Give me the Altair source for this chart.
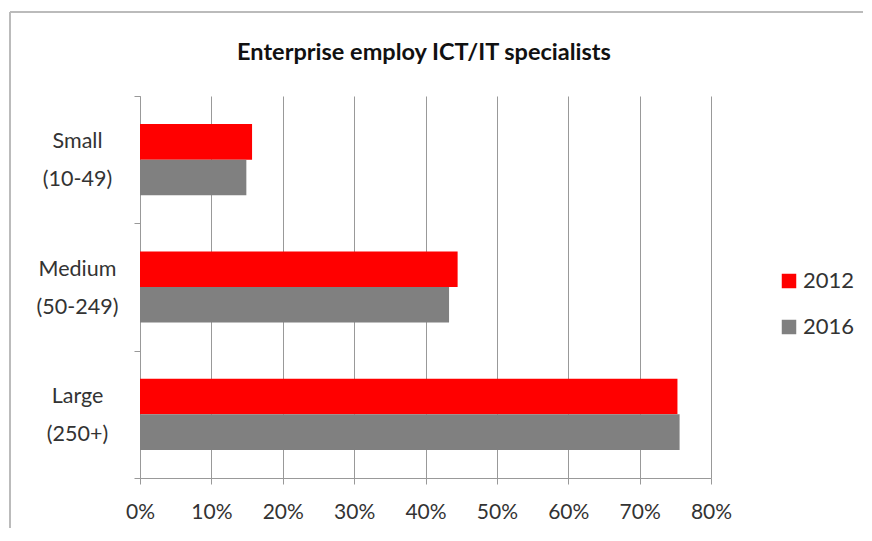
import altair as alt
import pandas as pd

categories = ["Small (10-49)", "Medium (50-249)", "Large (250+)"]
years = ["2012", "2016"]
values_2012 = [0.157, 0.445, 0.753]
values_2016 = [0.149, 0.433, 0.756]
x_ticks = [0, 0.1, 0.2, 0.3, 0.4, 0.5, 0.6, 0.7, 0.8]
chart_title = "Enterprise employ ICT/IT specialists"

rows = []
for c, a, b in zip(categories, values_2012, values_2016):
    rows.append({"cat": c, "year": "2012", "value": a})
    rows.append({"cat": c, "year": "2016", "value": b})
df = pd.DataFrame(rows)

FONT = "Lato"

bars = alt.Chart(df).mark_bar().encode(
    y=alt.Y("cat:N", sort=categories,
            scale=alt.Scale(paddingInner=0, paddingOuter=0),
            axis=alt.Axis(title=None, labelExpr="split(datum.label, ' ')",
                          labelAlign="center", labelPadding=57, labelFontSize=21.5,
                          labelColor="#333", labelFont=FONT, labelLineHeight=38,
                          labelOffset=-18,
                          tickBand="extent", tickSize=6, tickColor="#999",
                          domainColor="#999", grid=False, labelBaseline="middle")),
    yOffset=alt.YOffset("year:N", sort=years,
                        scale=alt.Scale(paddingInner=0, paddingOuter=0.79)),
    x=alt.X("value:Q", scale=alt.Scale(domain=[0, 0.8], nice=False),
            axis=alt.Axis(title=None, format=".0%", values=x_ticks, labelFontSize=21,
                          labelColor="#333", labelFont=FONT, labelPadding=17,
                          labelFlush=False,
                          tickSize=6, tickColor="#999", domainColor="#999",
                          gridColor="#999", gridWidth=1)),
    color=alt.Color("year:N", sort=years,
                    scale=alt.Scale(domain=years, range=["#FF0000", "#808080"]),
                    legend=alt.Legend(title=None, orient="none", legendX=638, legendY=174,
                                      symbolType="square", symbolSize=210,
                                      symbolStrokeWidth=0, labelFontSize=22,
                                      labelFont=FONT, labelColor="#333",
                                      rowPadding=24, labelOffset=3)),
)

frame_left = alt.Chart(df).mark_rule(color="#bbb", strokeWidth=2).encode(
    x=alt.value(-130), y=alt.value(-84), y2=alt.value(460))
frame_top = alt.Chart(df).mark_rule(color="#bbb", strokeWidth=2).encode(
    x=alt.value(-130), x2=alt.value(725), y=alt.value(-84))
title_text = alt.Chart(pd.DataFrame({"t": [chart_title]})).mark_text(
    font=FONT, fontSize=23.5, fontWeight="bold", color="#111", align="center",
    baseline="middle").encode(text="t:N", x=alt.value(284), y=alt.value(-43))

chart = alt.layer(frame_left, frame_top, title_text, bars).properties(
    width=571, height=382,
    autosize=alt.AutoSizeParams(type="none"),
    padding={"left": 132, "top": 88, "right": 152, "bottom": 50},
).configure_view(stroke=None)

chart.save("out.html", embed_options={"renderer": "svg", "actions": False})
